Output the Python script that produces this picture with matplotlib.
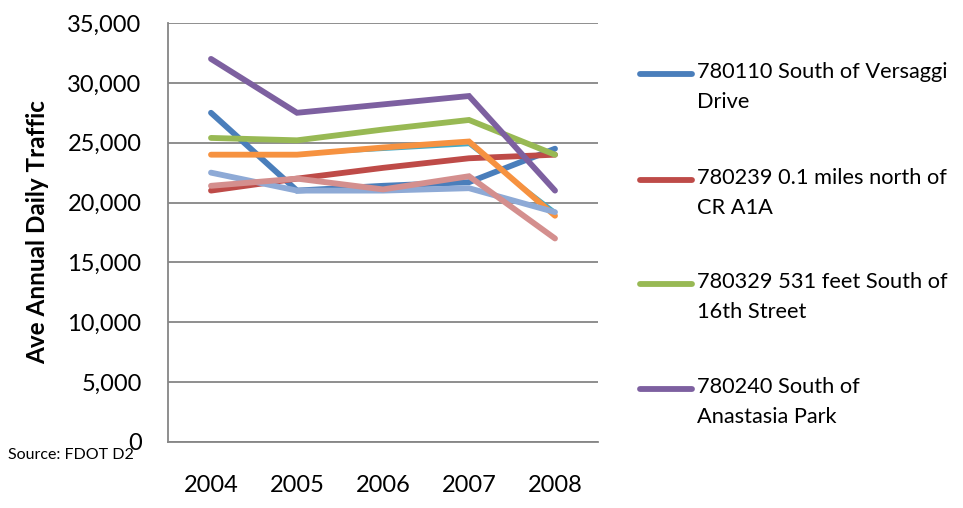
import matplotlib
matplotlib.use("Agg")
import matplotlib.pyplot as plt
from matplotlib.lines import Line2D

plt.rcParams['font.family'] = ['Lato', 'DejaVu Sans']

# data
years = ["2004", "2005", "2006", "2007", "2008"]
s780110 = [27500, 21000, 21400, 21700, 24500]
s780239 = [21000, 22000, 22900, 23700, 24000]
s780329 = [25400, 25200, 26100, 26900, 24000]
s780240 = [32000, 27500, 28200, 28900, 21000]
s_teal = [24000, 24000, 24400, 24800, 19300]
s_orange = [24000, 24000, 24600, 25100, 18900]
s_ltblue = [22500, 21000, 21000, 21200, 19200]
s_pink = [21400, 22000, 21100, 22200, 17000]

labels = ["780110 South of Versaggi\nDrive",
          "780239 0.1 miles north of\nCR A1A",
          "780329 531 feet South of\n16th Street",
          "780240 South of\nAnastasia Park"]

series = [s780110, s780239, s780329, s780240, s_teal, s_orange, s_ltblue, s_pink]
colors = ["#4a7ebb", "#be4b48", "#98b954", "#7d60a0", "#46aac5", "#f69240", "#8eaad6", "#d48f8e"]
widths = [4.2, 4.2, 4.2, 4.2, 1.6, 4.2, 4.2, 4.2]

W, H = 963, 508
fig = plt.figure(figsize=(W / 100, H / 100), dpi=100)
ax = fig.add_axes([168 / W, 1 - 442 / H, 430 / W, 419 / H])

x = range(len(years))
for s, c, w in zip(series, colors, widths):
    ax.plot(x, s, color=c, linewidth=w, solid_capstyle='round', solid_joinstyle='miter')

ax.set_xlim(-0.5, len(years) - 0.5)
ax.set_ylim(0, 35000)
ax.set_yticks(range(0, 35001, 5000))
ax.set_yticklabels([f"{v:,}" for v in range(0, 35001, 5000)])
ax.set_xticks(list(x))
ax.set_xticklabels(years)
ax.yaxis.grid(True, color="#868686", linewidth=1.3)
ax.set_axisbelow(True)
ax.tick_params(axis='both', length=0, labelsize=17)
ax.tick_params(axis='y', pad=19)
ax.tick_params(axis='x', pad=24)
for sp in ['top', 'right']:
    ax.spines[sp].set_visible(False)
for sp in ['left', 'bottom']:
    ax.spines[sp].set_color("#868686")
    ax.spines[sp].set_linewidth(1.3)

fig.text(38 / W, 1 - 232 / H, "Ave Annual Daily Traffic", rotation=90,
         ha='center', va='center', fontsize=17.5, fontweight='bold')
fig.text(8 / W, 1 - 455 / H, "Source: FDOT D2", ha='left', va='center', fontsize=11.5)

# legend (first four series only)
leg_y = [74, 180, 284, 389]
for lab, c, yy in zip(labels, colors[:4], leg_y):
    fig.add_artist(Line2D([640 / W, 692 / W], [1 - yy / H, 1 - yy / H], color=c,
                          linewidth=4.2, solid_capstyle='round'))
    fig.text(697 / W, 1 - (yy - 12) / H, lab, ha='left', va='top', fontsize=15.7,
             linespacing=1.65)

fig.savefig("out.png", dpi=100)
